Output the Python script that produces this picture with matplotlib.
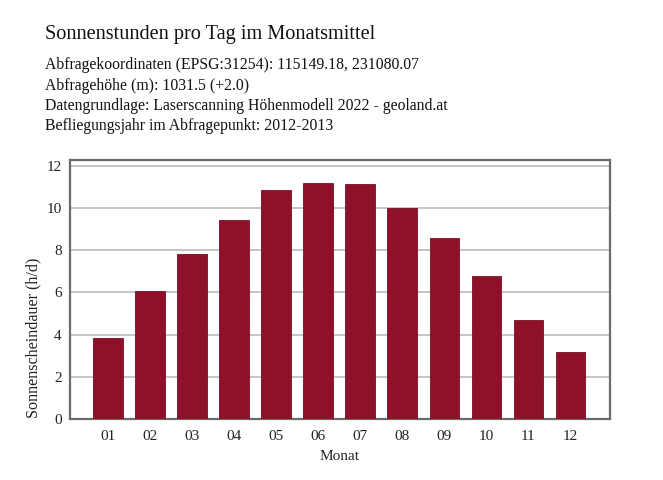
import matplotlib
matplotlib.use("Agg")
import matplotlib.pyplot as plt

plt.rcParams['font.family'] = ['Liberation Serif', 'DejaVu Serif']

months = ["01", "02", "03", "04", "05", "06", "07", "08", "09", "10", "11", "12"]
sun_hours = [3.83, 6.06, 7.82, 9.42, 10.85, 11.17, 11.14, 9.99, 8.57, 6.78, 4.70, 3.19]

title = "Sonnenstunden pro Tag im Monatsmittel"
info_lines = [
    "Abfragekoordinaten (EPSG:31254): 115149.18, 231080.07",
    "Abfragehöhe (m): 1031.5 (+2.0)",
    "Datengrundlage: Laserscanning Höhenmodell 2022 - geoland.at",
    "Befliegungsjahr im Abfragepunkt: 2012-2013",
]

fig = plt.figure(figsize=(6.63, 4.8), dpi=100)
W, H = 663, 480
# axes box in pixels: left 70, right 610, top 160, bottom 419
ax = fig.add_axes([70 / W, 1 - 419 / H, 540 / W, 259 / H])

x = range(1, len(months) + 1)
ax.bar(x, sun_hours, width=0.71, color="#8f1129", edgecolor="#7a0e22", linewidth=0.6, zorder=3)

ax.set_xlim(0.09, 12.94)
ax.set_ylim(0, 12.27)
ax.set_xticks(list(x))
ax.set_xticklabels(months)
ax.set_yticks([0, 2, 4, 6, 8, 10, 12])
ax.tick_params(axis="both", length=0, labelsize=11, colors="#222222")
ax.tick_params(axis="x", pad=8)
ax.tick_params(axis="y", pad=6)
ax.grid(axis="y", color="#c0c0c0", linewidth=1.3, zorder=0)
for s in ax.spines.values():
    s.set_color("#6b6b6b")
    s.set_linewidth(1.6)

ax.set_xlabel("Monat", fontsize=11, color="#222222", labelpad=5)
ax.set_ylabel("Sonnenscheindauer (h/d)", fontsize=11.6, color="#222222")
ax.yaxis.set_label_coords(-0.053, 0.314)

fig.text(45 / W, 1 - 34 / H, title, fontsize=14.6, va="center", ha="left", color="#111111")
for i, line in enumerate(info_lines):
    fig.text(45 / W, 1 - (65 + 20.5 * i) / H, line, fontsize=11.3, va="center", ha="left", color="#111111")

fig.savefig("out.png", dpi=100)
